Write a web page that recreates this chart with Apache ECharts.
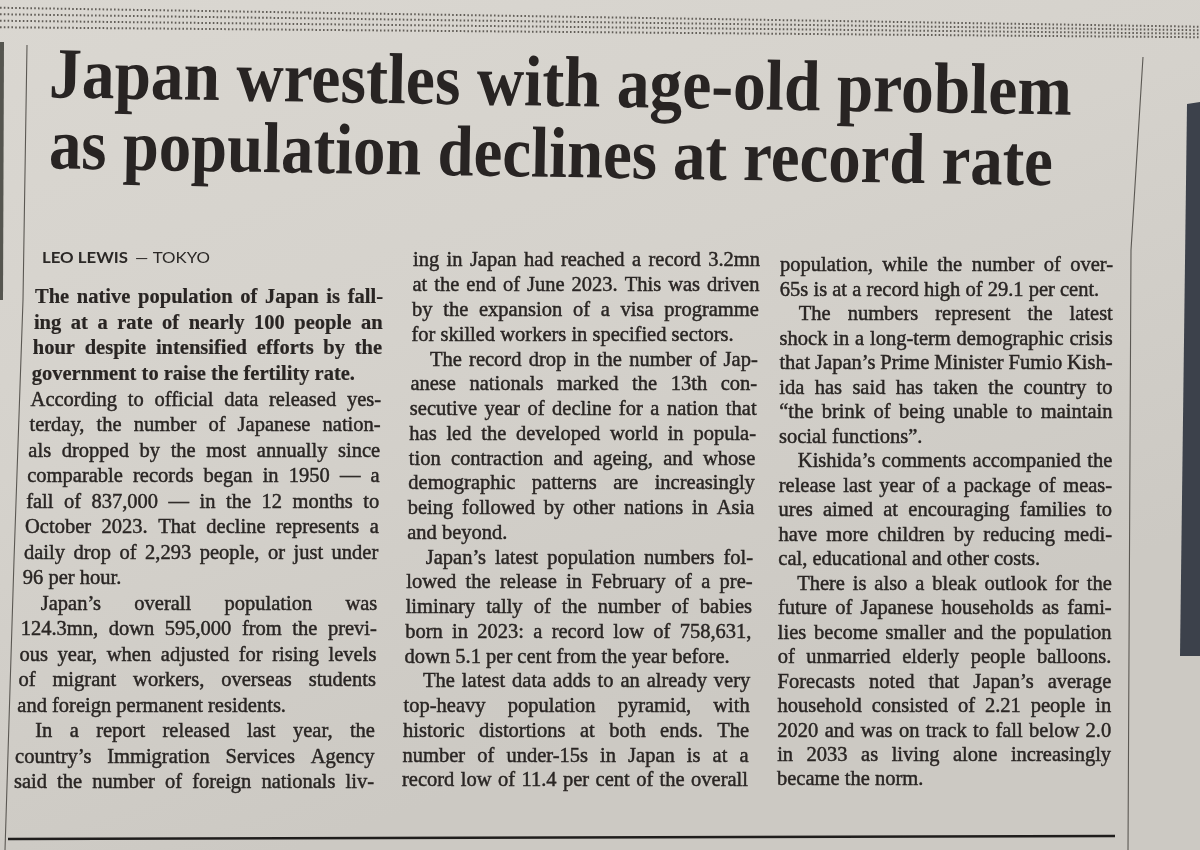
<!DOCTYPE html>
<html>
<head>
<meta charset="utf-8">
<script src="https://cdn.jsdelivr.net/npm/echarts@6/dist/echarts.min.js"></script>
<style>
html,body{margin:0;padding:0;background:#d6d2cc;}
#chart{width:1200px;height:850px;}
</style>
</head>
<body>
<div id="chart"></div>
<script>
// ---------------- content ----------------
const headlineLines = [
  "Japan wrestles with age-old problem",
  "as population declines at record rate"
];
const bylineAuthor = "LEO LEWIS";
const bylinePlace = "— TOKYO";

const introLines = [
  "The native population of Japan is fall-",
  "ing at a rate of nearly 100 people an",
  "hour despite intensified efforts by the",
  "government to raise the fertility rate."
];
const column1Lines = [
  "According to official data released yes-",
  "terday, the number of Japanese nation-",
  "als dropped by the most annually since",
  "comparable records began in 1950 — a",
  "fall of 837,000 — in the 12 months to",
  "October 2023. That decline represents a",
  "daily drop of 2,293 people, or just under",
  "96 per hour.",
  "Japan’s overall population was",
  "124.3mn, down 595,000 from the previ-",
  "ous year, when adjusted for rising levels",
  "of migrant workers, overseas students",
  "and foreign permanent residents.",
  "In a report released last year, the",
  "country’s Immigration Services Agency",
  "said the number of foreign nationals liv-"
];
const column2Lines = [
  "ing in Japan had reached a record 3.2mn",
  "at the end of June 2023. This was driven",
  "by the expansion of a visa programme",
  "for skilled workers in specified sectors.",
  "The record drop in the number of Jap-",
  "anese nationals marked the 13th con-",
  "secutive year of decline for a nation that",
  "has led the developed world in popula-",
  "tion contraction and ageing, and whose",
  "demographic patterns are increasingly",
  "being followed by other nations in Asia",
  "and beyond.",
  "Japan’s latest population numbers fol-",
  "lowed the release in February of a pre-",
  "liminary tally of the number of babies",
  "born in 2023: a record low of 758,631,",
  "down 5.1 per cent from the year before.",
  "The latest data adds to an already very",
  "top-heavy population pyramid, with",
  "historic distortions at both ends. The",
  "number of under-15s in Japan is at a",
  "record low of 11.4 per cent of the overall"
];
const column3Lines = [
  "population, while the number of over-",
  "65s is at a record high of 29.1 per cent.",
  "The numbers represent the latest",
  "shock in a long-term demographic crisis",
  "that Japan’s Prime Minister Fumio Kish-",
  "ida has said has taken the country to",
  "“the brink of being unable to maintain",
  "social functions”.",
  "Kishida’s comments accompanied the",
  "release last year of a package of meas-",
  "ures aimed at encouraging families to",
  "have more children by reducing medi-",
  "cal, educational and other costs.",
  "There is also a bleak outlook for the",
  "future of Japanese households as fami-",
  "lies become smaller and the population",
  "of unmarried elderly people balloons.",
  "Forecasts noted that Japan’s average",
  "household consisted of 2.21 people in",
  "2020 and was on track to fall below 2.0",
  "in 2033 as living alone increasingly",
  "became the norm."
];
// paragraph structure (line indices where a new indented paragraph begins)
const column1ParagraphStarts = [8, 13];
const column2ParagraphStarts = [4, 12, 17];
const column3ParagraphStarts = [2, 8, 13];

// ---------------- layout helpers ----------------
const SERIF = '"Liberation Serif", "DejaVu Serif", serif';
const SANS = 'Lato, "Open Sans", sans-serif';
const INK = '#292523';
const measureCtx = document.createElement('canvas').getContext('2d');
function textWidth(str, size, weight, family) {
  measureCtx.font = (weight || 'normal') + ' ' + size + 'px ' + family;
  return measureCtx.measureText(str).width;
}

const elements = [];

// paper background
elements.push({
  type: 'rect', z: 0, silent: true,
  shape: {x: 0, y: 0, width: 1200, height: 850},
  style: {fill: new echarts.graphic.LinearGradient(0, 0, 0.25, 1, [
    {offset: 0, color: '#dad7d1'},
    {offset: 0.5, color: '#d5d2cc'},
    {offset: 1, color: '#ccc9c3'}
  ])}
});
// dark objects at the photo edges
elements.push({type: 'polygon', z: 1, silent: true,
  shape: {points: [[1187, 104], [1200, 102], [1200, 656], [1180, 656]]},
  style: {fill: '#3c414b'}});
elements.push({type: 'polygon', z: 1, silent: true,
  shape: {points: [[0, 42], [4, 42], [3, 300], [0, 300]]},
  style: {fill: '#55554f'}});

// dotted band along the top
[-0.75, -0.25, 0.25, 0.75].forEach(function (f) {
  elements.push({type: 'line', z: 1, silent: true,
    shape: {x1: 0, y1: 17.5 + f * 13, x2: 1200, y2: 32 + f * 7},
    style: {stroke: '#625e58', lineWidth: 2, lineDash: [1.6, 2.2]}});
});

// column rules
elements.push({type: 'polyline', z: 1, silent: true,
  shape: {points: [[27, 45], [23, 300], [14, 560], [5, 850]]},
  style: {stroke: '#5b5853', lineWidth: 1.1, fill: null}});
elements.push({type: 'polyline', z: 1, silent: true,
  shape: {points: [[1143, 57], [1131, 250], [1128, 850]]},
  style: {stroke: '#5b5853', lineWidth: 1.1, fill: null}});
elements.push({type: 'line', z: 1, silent: true,
  shape: {x1: 8, y1: 839, x2: 1115, y2: 836},
  style: {stroke: '#1f1d1c', lineWidth: 2.6}});

// ---------------- headline ----------------
const headFs = 72;
const headRot = -0.017;
const headGeom = [
  {x: 49, baseline: 103, right: 1072},
  {x: 49, baseline: 174, right: 1053}
];
headlineLines.forEach(function (line, i) {
  const g = headGeom[i];
  const w = textWidth(line, headFs, 'bold', SERIF);
  const sx = (g.right - g.x) / w;
  elements.push({
    type: 'text', z: 5, silent: true,
    x: g.x, y: g.baseline - 0.3375 * headFs,
    rotation: headRot, scaleX: sx, scaleY: 1,
    style: {text: line, fontSize: headFs, fontWeight: 'bold', fontFamily: SERIF,
            fill: '#282423', align: 'left', verticalAlign: 'middle'}
  });
});

// ---------------- byline ----------------
(function () {
  const fs = 14.5;
  const bl = 264;
  const parts = [
    {text: bylineAuthor, weight: 'bold', x0: 42, x1: 128},
    {text: bylinePlace, weight: 'normal', x0: 135, x1: 210}
  ];
  parts.forEach(function (p) {
    const w = textWidth(p.text, fs, p.weight, SANS);
    elements.push({
      type: 'text', z: 5, silent: true,
      x: p.x0, y: bl - 0.36 * fs, scaleX: (p.x1 - p.x0) / w,
      style: {text: p.text, fontSize: fs, fontWeight: p.weight, fontFamily: SANS,
              fill: '#2b2826', align: 'left', verticalAlign: 'middle'}
    });
  });
})();

// ---------------- body columns ----------------
const BODY_FS = 20.5;
const INDENT = 19;

function buildRows(lines, starts, opts) {
  return lines.map(function (t, i) {
    const nextIsStart = starts.indexOf(i + 1) >= 0;
    const isLast = i === lines.length - 1;
    const ends = nextIsStart || (isLast && opts.lastEnds);
    return {
      text: t,
      bold: !!opts.bold,
      indent: starts.indexOf(i) >= 0,
      justify: !ends
    };
  });
}

function layoutColumn(rows, geom) {
  const n = rows.length;
  rows.forEach(function (row, i) {
    const t = n > 1 ? i / (n - 1) : 0;
    const baseline = geom.b0 + t * (geom.b1 - geom.b0);
    const left = geom.l0 + t * (geom.l1 - geom.l0) + (row.indent ? INDENT : 0);
    const right = geom.r0 + t * (geom.r1 - geom.r0);
    const avail = right - left;
    const weight = row.bold ? 'bold' : 'normal';
    const words = row.text.split(' ');
    const ws = words.map(function (w) { return textWidth(w, BODY_FS, weight, SERIF); });
    const space = textWidth(' ', BODY_FS, weight, SERIF);
    const sumW = ws.reduce(function (a, b) { return a + b; }, 0);
    const gaps = Math.max(words.length - 1, 1);
    let gap = space, sx = 1;
    if (row.justify && words.length > 1) {
      gap = (avail - sumW) / gaps;
      if (gap < 0.55 * space) {
        gap = 0.55 * space;
        sx = (avail - gap * gaps) / sumW;
      }
    } else {
      const natural = sumW + space * (words.length - 1);
      if (natural > avail) {
        gap = 0.7 * space;
        sx = Math.min(1, (avail - gap * (words.length - 1)) / sumW);
      }
    }
    let x = left;
    words.forEach(function (w, k) {
      elements.push({
        type: 'text', z: 5, silent: true,
        x: x, y: baseline - 0.3375 * BODY_FS, scaleX: sx,
        style: {text: w, fontSize: BODY_FS, fontWeight: weight, fontFamily: SERIF,
                fill: INK, stroke: INK, lineWidth: row.bold ? 0.2 : 0.45,
                align: 'left', verticalAlign: 'middle'}
      });
      x += ws[k] * sx + gap;
    });
  });
}

// column 1: intro (bold) + body rows share one grid
const col1Rows = buildRows(introLines, [], {bold: true, lastEnds: true})
  .concat(buildRows(column1Lines, column1ParagraphStarts, {bold: false, lastEnds: false}));
layoutColumn(col1Rows, {b0: 305, b1: 790, l0: 35, l1: 14, r0: 383, r1: 374});

const col2Rows = buildRows(column2Lines, column2ParagraphStarts, {lastEnds: false});
layoutColumn(col2Rows, {b0: 268, b1: 788, l0: 413, l1: 402, r0: 760, r1: 748});

const col3Rows = buildRows(column3Lines, column3ParagraphStarts, {lastEnds: true});
layoutColumn(col3Rows, {b0: 273, b1: 787, l0: 780, l1: 777, r0: 1113, r1: 1111});

const chart = echarts.init(document.getElementById('chart'), null, {renderer: 'canvas'});
chart.setOption({
  animation: false,
  backgroundColor: '#d6d2cc',
  graphic: {elements: elements}
});
</script>
</body>
</html>
